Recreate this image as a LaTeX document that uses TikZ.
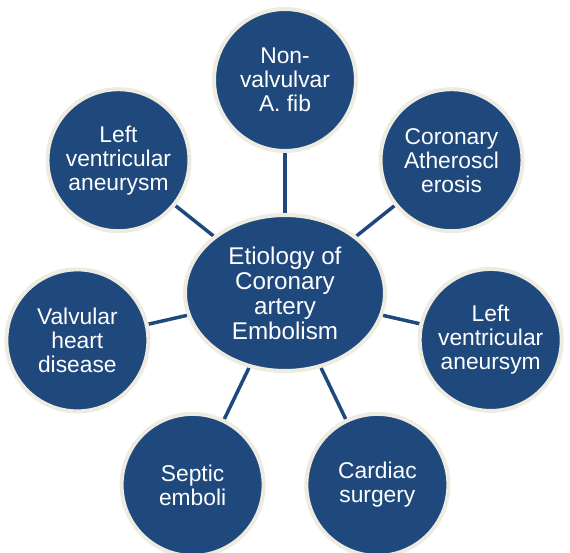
\documentclass[tikz,border=0pt]{standalone}
\usepackage{fontspec}
\setmainfont{Liberation Sans}
\usetikzlibrary{shapes.geometric,backgrounds}
\definecolor{navy}{HTML}{1F497D}
\definecolor{rim}{HTML}{EEECE1}

\begin{document}
\begin{tikzpicture}[
      bubble/.style={circle, draw=rim, line width=4pt, fill=navy, minimum size=142pt, inner sep=0pt, text=white, align=center, font=\fontsize{22.8}{24}\selectfont},
      hubnode/.style={ellipse, draw=rim, line width=4pt, fill=navy, minimum width=200pt, minimum height=156pt, inner sep=0pt, text=white, align=center, font=\fontsize{24.2}{25}\selectfont},
      link/.style={draw=navy, line width=3.5pt},
    ]
    \useasboundingbox (-285pt,-260pt) rectangle (285pt,293pt);
    \node [hubnode] (hub) at (0,0) {Etiology of\\Coronary\\artery\\Embolism};
    \node [bubble] (afib) at (90:213pt) {Non-\\valvulvar\\A. fib};
    \node [bubble] (athero) at (38.57:213pt) {Coronary\\Atheroscl\\erosis};
    \node [bubble] (lvright) at (-12.86:211pt) {Left\\ventricular\\aneursym};
    \node [bubble] (surgery) at (-64.29:213pt) {Cardiac\\surgery};
    \node [bubble] (septic) at (-115.71:213pt) {Septic\\emboli};
    \node [bubble] (valvular) at (-167.14:213pt) {Valvular\\heart\\disease};
    \node [bubble] (lvleft) at (141.43:213pt) {Left\\ventricular\\aneurysm};
    \begin{scope}[on background layer]
      \draw [link] (hub) -- (afib);
      \draw [link] (hub) -- (athero);
      \draw [link] (hub) -- (lvright);
      \draw [link] (hub) -- (surgery);
      \draw [link] (hub) -- (septic);
      \draw [link] (hub) -- (valvular);
      \draw [link] (hub) -- (lvleft);
    \end{scope}
  \end{tikzpicture}
\end{document}
